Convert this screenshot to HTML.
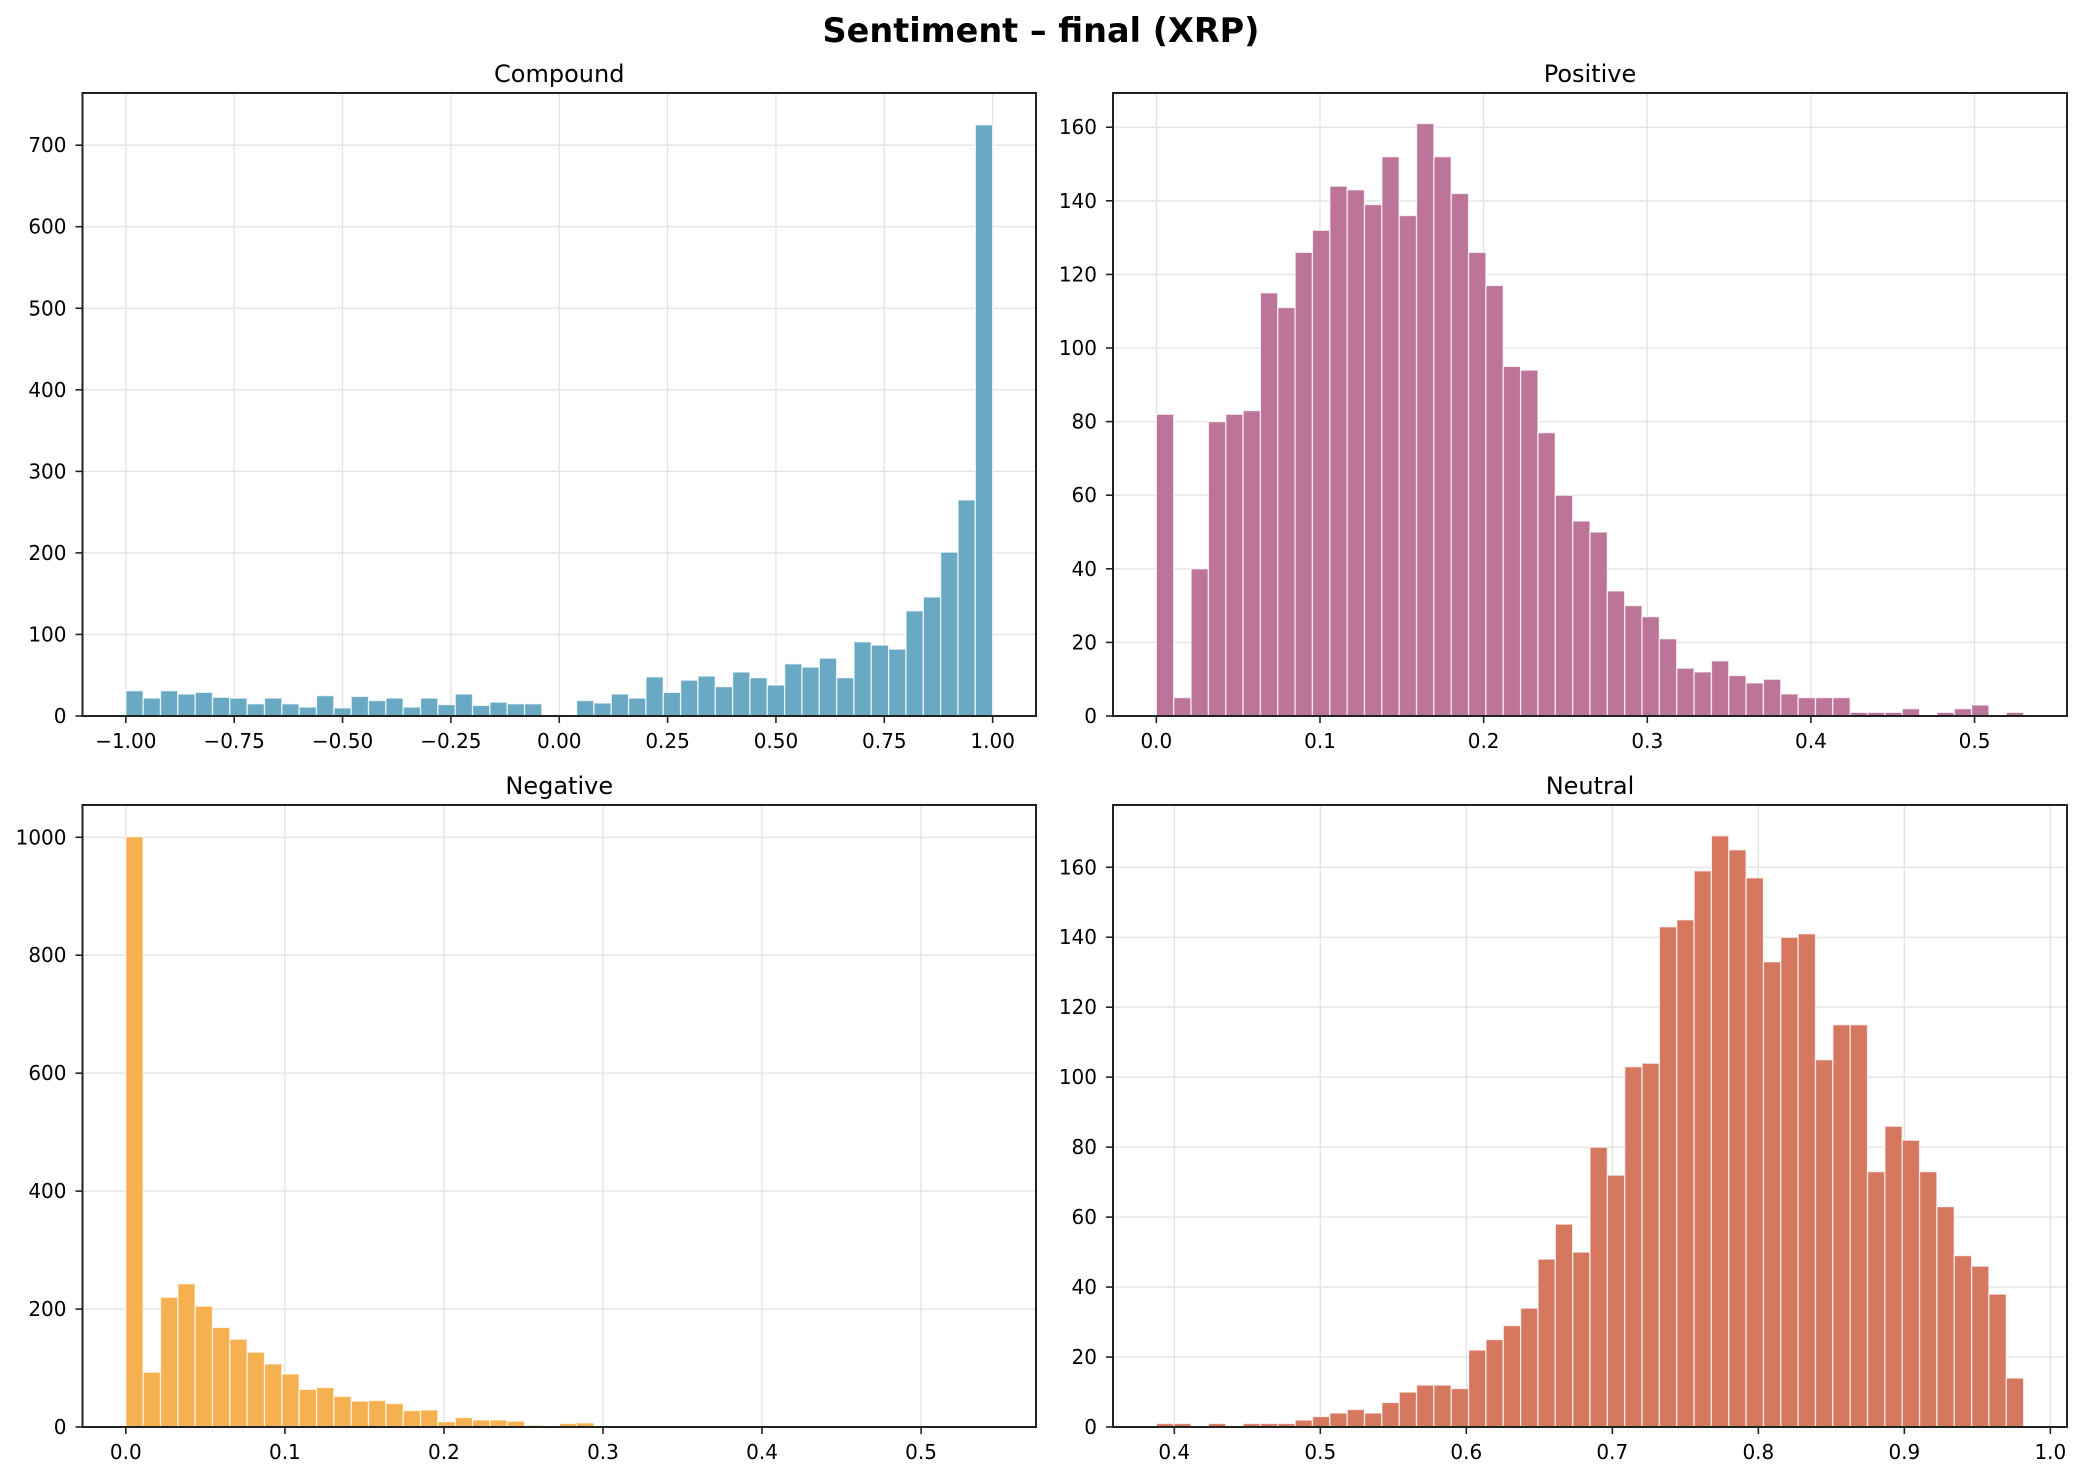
<!DOCTYPE html>
<html><head><meta charset="utf-8"><style>
html,body{margin:0;padding:0;background:#fff;}
svg{display:block;font-family:"DejaVu Sans","Liberation Sans",sans-serif;}
</style></head><body>
<svg id="fig" width="2081" height="1477" viewBox="0 0 2081 1477" xmlns="http://www.w3.org/2000/svg">
<rect width="2081" height="1477" fill="#fff"/>
<text x="1041" y="42" text-anchor="middle" font-size="33.5" font-weight="bold" fill="#000">Sentiment – final (XRP)</text>
</svg>
<script>
const compoundCounts = [31,22,31,27,29,23,22,15,22,15,11,25,10,24,19,22,11,22,14,27,13,17,15,15,0,0,19,16,27,22,48,29,44,49,36,54,47,38,64,60,71,47,91,87,82,129,146,201,265,725];
const positiveCounts = [82,5,40,80,82,83,115,111,126,132,144,143,139,152,136,161,152,142,126,117,95,94,77,60,53,50,34,30,27,21,13,12,15,11,9,10,6,5,5,5,1,1,1,2,0,1,2,3,0,1];
const negativeCounts = [1001,93,220,243,205,169,149,127,107,90,64,67,52,44,45,40,28,29,9,16,12,12,10,3,1,6,7,2,1,0,0,0,0,0,0,0,0,0,0,0,0,0,0,0,0,0,0,0,0,1];
const neutralCounts = [1,1,0,1,0,1,1,1,2,3,4,5,4,7,10,12,12,11,22,25,29,34,48,58,50,80,72,103,104,143,145,159,169,165,157,133,140,141,105,115,115,73,86,82,73,63,49,46,38,14];
const compoundRange = [-1, 1];
const positiveRange = [0, 0.53];
const negativeRange = [0, 0.545];
const neutralRange = [0.3877, 0.9817];
const compoundXTicks = [-1,-0.75,-0.5,-0.25,0,0.25,0.5,0.75,1];
const compoundXLabels = ["−1.00","−0.75","−0.50","−0.25","0.00","0.25","0.50","0.75","1.00"];
const positiveXTicks = [0,0.1,0.2,0.3,0.4,0.5];
const negativeXTicks = [0,0.1,0.2,0.3,0.4,0.5];
const neutralXTicks = [0.4,0.5,0.6,0.7,0.8,0.9,1.0];
const compoundYTicks = [0,100,200,300,400,500,600,700];
const positiveYTicks = [0,20,40,60,80,100,120,140,160];
const negativeYTicks = [0,200,400,600,800,1000];
const neutralYTicks = [0,20,40,60,80,100,120,140,160];
const compoundYMax = 764;
const positiveYMax = 169.3;
const negativeYMax = 1054.7;
const neutralYMax = 177.8;

const NS = "http://www.w3.org/2000/svg";
const fig = document.getElementById('fig');
function mk(tag, attrs, parent){
  const e = document.createElementNS(NS, tag);
  for (const k in attrs) e.setAttribute(k, attrs[k]);
  parent.appendChild(e);
  return e;
}
function panel(key, title, L, T, R, B, counts, range, xt, xl, yt, ymax, color){
  const g = mk('g', {}, fig);
  
  
  const span = range[1] - range[0];
  const x0 = range[0] - span*0.05, x1 = range[1] + span*0.05;
  const xs = v => L + (v - x0)/(x1 - x0)*(R - L);
  const ys = v => B - v/ymax*(B - T);
  xt.forEach(v => {
    const l = mk('line', {x1:xs(v), x2:xs(v), y1:T, y2:B, stroke:'#e3e3e3', 'stroke-width':1.3}, g);
    
    
  });
  yt.forEach(v => {
    const l = mk('line', {x1:L, x2:R, y1:ys(v), y2:ys(v), stroke:'#e3e3e3', 'stroke-width':1.3}, g);
    
    
  });
  const bw = span / counts.length;
  counts.forEach((c, i) => {
    if (c <= 0) return;
    const xa = xs(range[0] + i*bw), xb = xs(range[0] + (i+1)*bw);
    const r = mk('rect', {x:xa, y:ys(c), width:xb-xa, height:B-ys(c), fill:color, stroke:'#fff', 'stroke-opacity':0.75, 'stroke-width':1.3}, g);
    
    
  });
  const f = mk('rect', {x:L, y:T, width:R-L, height:B-T, fill:'none', stroke:'#222', 'stroke-width':2}, g);
  
  
  xt.forEach((v, i) => {
    const t = mk('line', {x1:xs(v), x2:xs(v), y1:B, y2:B+7, stroke:'#222', 'stroke-width':1.6}, g);
    
    
    const tx = mk('text', {x:xs(v), y:B+32, 'text-anchor':'middle', 'font-size':20, fill:'#000'}, g);
    tx.textContent = xl ? xl[i] : v.toFixed(1);
    
    
  });
  yt.forEach(v => {
    const t = mk('line', {x1:L-7, x2:L, y1:ys(v), y2:ys(v), stroke:'#222', 'stroke-width':1.6}, g);
    
    
    const tx = mk('text', {x:L-16, y:ys(v)+7, 'text-anchor':'end', 'font-size':20, fill:'#000'}, g);
    tx.textContent = String(v);
    
    
  });
  const tt = mk('text', {x:(L+R)/2, y:T-11, 'text-anchor':'middle', 'font-size':24, fill:'#000'}, g);
  tt.textContent = title;
  
  
}
panel('compound','Compound',82.5,93,1036,716,compoundCounts,compoundRange,compoundXTicks,compoundXLabels,compoundYTicks,compoundYMax,'#6aa9c4');
panel('positive','Positive',1113,93,2067,716,positiveCounts,positiveRange,positiveXTicks,null,positiveYTicks,positiveYMax,'#bd7499');
panel('negative','Negative',82.5,805,1036,1427,negativeCounts,negativeRange,negativeXTicks,null,negativeYTicks,negativeYMax,'#f5b04f');
panel('neutral','Neutral',1113,805,2067,1427,neutralCounts,neutralRange,neutralXTicks,null,neutralYTicks,neutralYMax,'#d67760');
</script>
</body></html>
